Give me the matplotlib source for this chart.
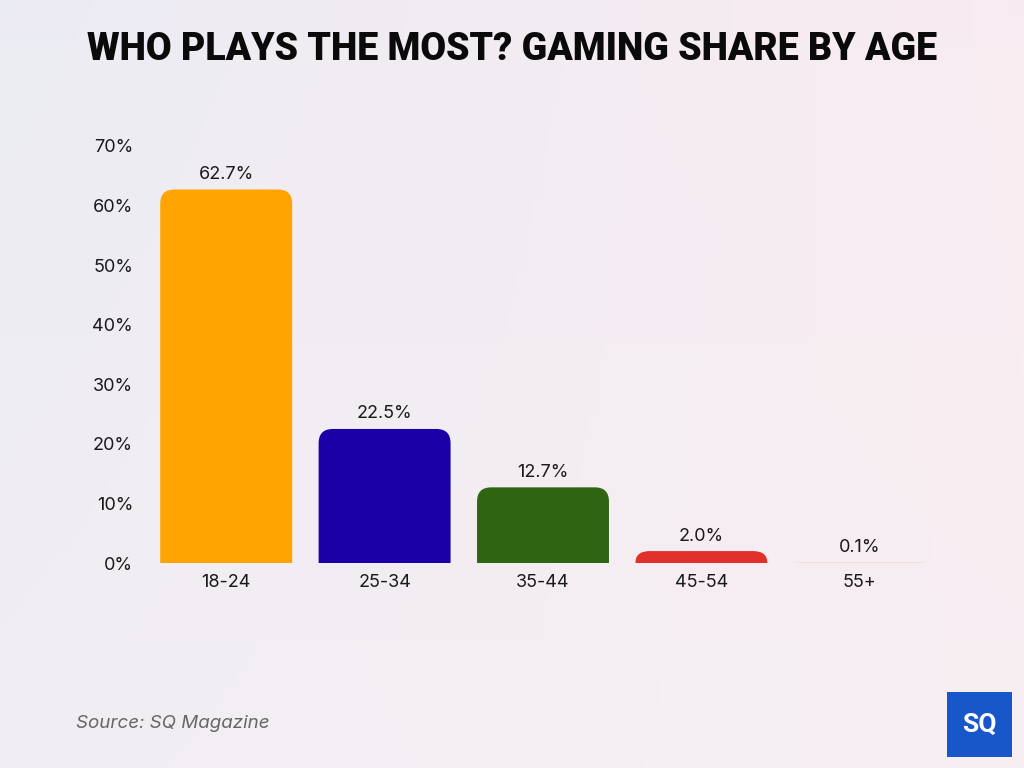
import numpy as np
import matplotlib.pyplot as plt
from matplotlib.path import Path
from matplotlib.patches import PathPatch, Rectangle

ages = ["18-24", "25-34", "35-44", "45-54", "55+"]
shares = [62.7, 22.5, 12.7, 2.0, 0.1]
bar_colors = ["#FFA400", "#1B00A8", "#2F6411", "#E2302A", "#F3D9AE"]
yticks = [0, 10, 20, 30, 40, 50, 60, 70]


def rounded_top_bar(ax, x, w, h, rx, ry, color):
    ry = min(ry, h)
    x0, x1 = x - w / 2, x + w / 2
    verts = [(x0, 0), (x0, h - ry), (x0, h), (x0 + rx, h),
             (x1 - rx, h), (x1, h), (x1, h - ry), (x1, 0), (x0, 0)]
    codes = [Path.MOVETO, Path.LINETO, Path.CURVE3, Path.CURVE3,
             Path.LINETO, Path.CURVE3, Path.CURVE3, Path.LINETO, Path.CLOSEPOLY]
    ax.add_patch(PathPatch(Path(verts, codes), facecolor=color, edgecolor="none"))


fig = plt.figure(figsize=(10.24, 7.68), dpi=100)

# soft gradient background
bg = fig.add_axes([0, 0, 1, 1], zorder=-10)
gx = np.linspace(0, 1, 200)
gy = np.linspace(0, 1, 150)
X, Y = np.meshgrid(gx, gy)
left = np.array([0.925, 0.925, 0.955])
right = np.array([0.975, 0.925, 0.945])
bottom = np.array([0.965, 0.945, 0.955])
t = X[..., None]
img = left * (1 - t) + right * t
img = img * (1 - 0.5 * Y[..., None]) + bottom * 0.5 * Y[..., None]
bg.imshow(img, extent=[0, 1, 0, 1], aspect="auto", origin="upper")
bg.axis("off")

# axes: x from 147 to 939 px, y from 146 to 563 px
ax = fig.add_axes([147 / 1024, 1 - 563 / 768, 792 / 1024, 417 / 768])
ax.set_facecolor("none")
xs = np.arange(len(ages))
ax.set_xlim(-0.5, len(ages) - 0.5)
ax.set_ylim(0, 70)

w = 0.833
for x, v, c in zip(xs, shares, bar_colors):
    rounded_top_bar(ax, x, w, v, 0.09, 2.4, c)
    ax.text(x, v + 1.1, f"{v:.1f}%", ha="center", va="bottom",
            fontsize=13, color="#1a1a1a", family="Inter")

ax.set_xticks(xs)
ax.set_xticklabels(ages, fontsize=13, color="#1a1a1a", family="Inter")
ax.set_yticks(yticks)
ax.set_yticklabels([f"{v}%" for v in yticks], fontsize=13, color="#1a1a1a", family="Inter")
ax.tick_params(length=0)
ax.tick_params(axis="x", pad=8)
ax.tick_params(axis="y", pad=10)
for s in ax.spines.values():
    s.set_visible(False)

fig.text(0.5, 1 - 50 / 768, "WHO PLAYS THE MOST? GAMING SHARE BY AGE", ha="center", va="center",
         fontsize=27, fontweight="black", family="Roboto", color="#0a0a0a")

fig.text(76 / 1024, 1 - 724 / 768, "Source: SQ Magazine", ha="left", va="center",
         fontsize=13.5, style="italic", color="#666666", family="Inter")

# logo
lx, ly, ls = 947 / 1024, 1 - 757 / 768, 65
fig.patches.append(Rectangle((lx, ly), ls / 1024, ls / 768, transform=fig.transFigure,
                             facecolor="#1757C9", edgecolor="none"))
fig.text(lx + ls / 2048, ly + ls / 1536, "SQ", ha="center", va="center",
         fontsize=19, fontweight="bold", color="white", family="Roboto")

fig.savefig("out.png", dpi=100)
